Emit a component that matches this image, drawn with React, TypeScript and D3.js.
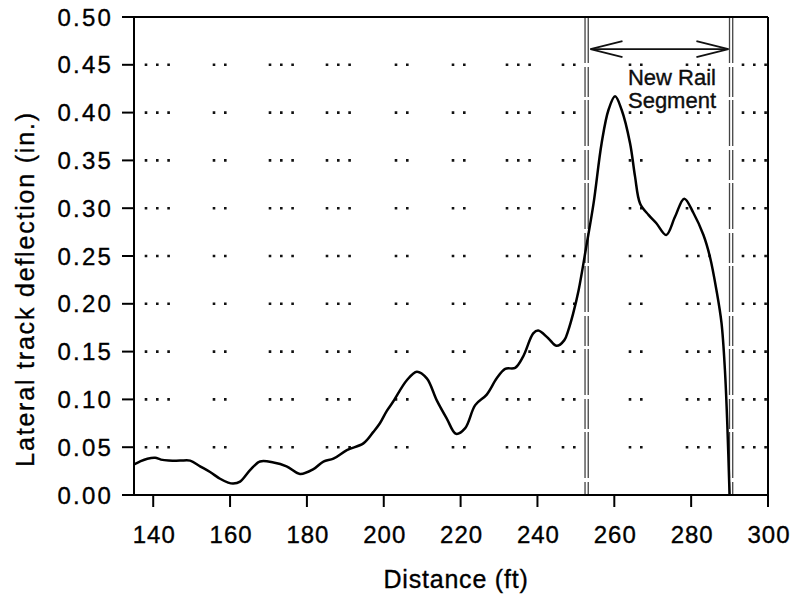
import React from "react";
import * as d3 from "d3";

const distance = [
  135.0, 136.5, 138.5, 140.5, 142.0, 144.0, 147.0, 149.6, 152.2, 154.8, 157.4, 159.5, 160.8, 162.6,
  165.2, 167.8, 171.3, 174.7, 178.2, 181.7, 184.3, 186.9, 190.4, 194.7, 197.3, 199.0, 200.8, 202.5,
  206.0, 208.6, 211.2, 213.8, 216.4, 218.8, 221.2, 223.8, 226.8, 229.4, 231.6, 234.2, 236.3, 238.9,
  240.2, 242.8, 245.0, 247.0, 248.0, 249.3, 250.7, 252.8, 254.6, 256.7, 258.5, 260.2, 261.9, 264.1,
  265.4, 266.7, 268.9, 271.0, 273.5, 275.8, 278.2, 280.6, 283.2, 284.9, 286.6, 287.9, 288.8, 289.4,
  290.0,
];
const deflection = [
  0.032, 0.035, 0.038, 0.039, 0.037, 0.036, 0.036, 0.036, 0.030, 0.024, 0.017, 0.013, 0.012, 0.014,
  0.026, 0.035, 0.034, 0.030, 0.022, 0.027, 0.035, 0.038, 0.047, 0.054, 0.066, 0.075, 0.088, 0.098,
  0.120, 0.129, 0.122, 0.099, 0.080, 0.064, 0.070, 0.094, 0.105, 0.122, 0.132, 0.133, 0.145, 0.169,
  0.172, 0.164, 0.156, 0.162, 0.172, 0.190, 0.214, 0.262, 0.305, 0.368, 0.403, 0.417, 0.403, 0.368,
  0.333, 0.305, 0.293, 0.284, 0.272, 0.291, 0.310, 0.295, 0.272, 0.249, 0.214, 0.180, 0.130, 0.075,
  0.000,
];
const xTicks = [140, 160, 180, 200, 220, 240, 260, 280, 300];
const yTicks = [0.0, 0.05, 0.1, 0.15, 0.2, 0.25, 0.3, 0.35, 0.4, 0.45, 0.5];
const gridValues = [0.05, 0.1, 0.15, 0.2, 0.25, 0.3, 0.35, 0.4, 0.45];
const segmentBounds = [252.8, 290.4];
const arrowSpan = [253.8, 289.7];
const arrowLevel = 0.4665;
const segmentLabel = ["New Rail", "Segment"];

const W = 793;
const H = 601;
const M = { left: 134, right: 768, top: 17, bottom: 495 };
const FONT = "'Liberation Sans', Arial, Helvetica, sans-serif";

// dotted grid styling: groups of dots (offset from plot left in px, count)
const DOT_GAP = 11.3;
const DOT_GROUPS: [number, number][] = [
  [12, 3], [80, 2], [136, 3], [193, 3], [262, 2], [319, 2], [373, 3], [429, 2], [496, 2], [553, 3], [609, 3],
];

function buildDash(): string {
  const parts: number[] = [];
  let cursor = 0;
  const dot = 2.6;
  DOT_GROUPS.forEach(([start, n]) => {
    for (let i = 0; i < n; i++) {
      const pos = start + i * DOT_GAP - dot / 2;
      parts.push(pos - cursor);
      parts.push(dot);
      cursor = pos + dot;
    }
  });
  parts.push(1000);
  return [0, ...parts].join(" ");
}

export default function App() {
  const x = d3.scaleLinear().domain([135, 300]).range([M.left, M.right]);
  const y = d3.scaleLinear().domain([0, 0.5]).range([M.bottom, M.top]);
  const pts = distance.map((d, i) => [d, deflection[i]] as [number, number]);
  const line = d3
    .line<[number, number]>()
    .x((d) => x(d[0]))
    .y((d) => y(d[1]))
    .curve(d3.curveCatmullRom.alpha(0.5));
  const dash = buildDash();
  const ax = 2;
  const textStroke = { stroke: "#000", strokeWidth: 0.35 };

  return (
    <svg
      width={W}
      height={H}
      style={{ position: "absolute", left: 0, top: 0, background: "#fff" }}
      fontFamily={FONT}
    >
      <rect x={0} y={0} width={W} height={H} fill="#fff" />
      {gridValues.map((g) => (
        <line
          key={g}
          x1={M.left}
          x2={M.right}
          y1={y(g)}
          y2={y(g)}
          stroke="#111"
          strokeWidth={2.6}
          strokeDasharray={dash}
        />
      ))}
      {segmentBounds.map((b) =>
        [-1.6, 1.6].map((o) => (
          <line
            key={`${b}${o}`}
            x1={x(b) + o}
            x2={x(b) + o}
            y1={M.top}
            y2={M.bottom}
            stroke="#444"
            strokeWidth={1.3}
            strokeDasharray="46 4 30 3"
          />
        ))
      )}
      <g stroke="#111" strokeWidth={1.8} fill="none">
        <line x1={x(arrowSpan[0])} x2={x(arrowSpan[1])} y1={y(arrowLevel)} y2={y(arrowLevel)} />
        <polyline
          points={`${x(arrowSpan[0]) + 32},${y(arrowLevel) - 8} ${x(arrowSpan[0])},${y(arrowLevel)} ${
            x(arrowSpan[0]) + 32
          },${y(arrowLevel) + 8}`}
        />
        <polyline
          points={`${x(arrowSpan[1]) - 32},${y(arrowLevel) - 8} ${x(arrowSpan[1])},${y(arrowLevel)} ${
            x(arrowSpan[1]) - 32
          },${y(arrowLevel) + 8}`}
        />
      </g>
      <g fontSize={22} fill="#111" textAnchor="middle" {...textStroke}>
        {segmentLabel.map((t, i) => (
          <text key={t} x={672} y={85 + i * 23}>
            {t}
          </text>
        ))}
      </g>
      <path d={line(pts) || ""} fill="none" stroke="#000" strokeWidth={2.5} strokeLinejoin="round" />
      <g stroke="#000" strokeWidth={ax} fill="none">
        <line x1={M.left} x2={M.right} y1={M.top} y2={M.top} />
        <line x1={M.left} x2={M.right} y1={M.bottom} y2={M.bottom} />
        <line x1={M.left} x2={M.left} y1={M.top} y2={M.bottom} />
        <line x1={M.right} x2={M.right} y1={M.top} y2={M.bottom} />
        {yTicks.map((t) => (
          <line key={t} x1={M.left - 12} x2={M.left} y1={y(t)} y2={y(t)} />
        ))}
        {xTicks.map((t) => (
          <line key={t} x1={x(t)} x2={x(t)} y1={M.bottom} y2={M.bottom + 12} />
        ))}
      </g>
      <g fontSize={24} fill="#000" {...textStroke}>
        {yTicks.map((t) => (
          <text key={t} x={113} y={y(t)} dy="0.36em" textAnchor="end" letterSpacing={2.2}>
            {t.toFixed(2)}
          </text>
        ))}
        {xTicks.map((t) => (
          <text key={t} x={x(t) + 1} y={543} textAnchor="middle" letterSpacing={1}>
            {t}
          </text>
        ))}
      </g>
      <text x={456} y={588} fontSize={25} textAnchor="middle" letterSpacing={0.8} {...textStroke}>
        Distance (ft)
      </text>
      <text
        transform={`translate(34, 289) rotate(-90)`}
        fontSize={25}
        textAnchor="middle"
        letterSpacing={1.8}
        {...textStroke}
      >
        Lateral track deflection (in.)
      </text>
    </svg>
  );
}
